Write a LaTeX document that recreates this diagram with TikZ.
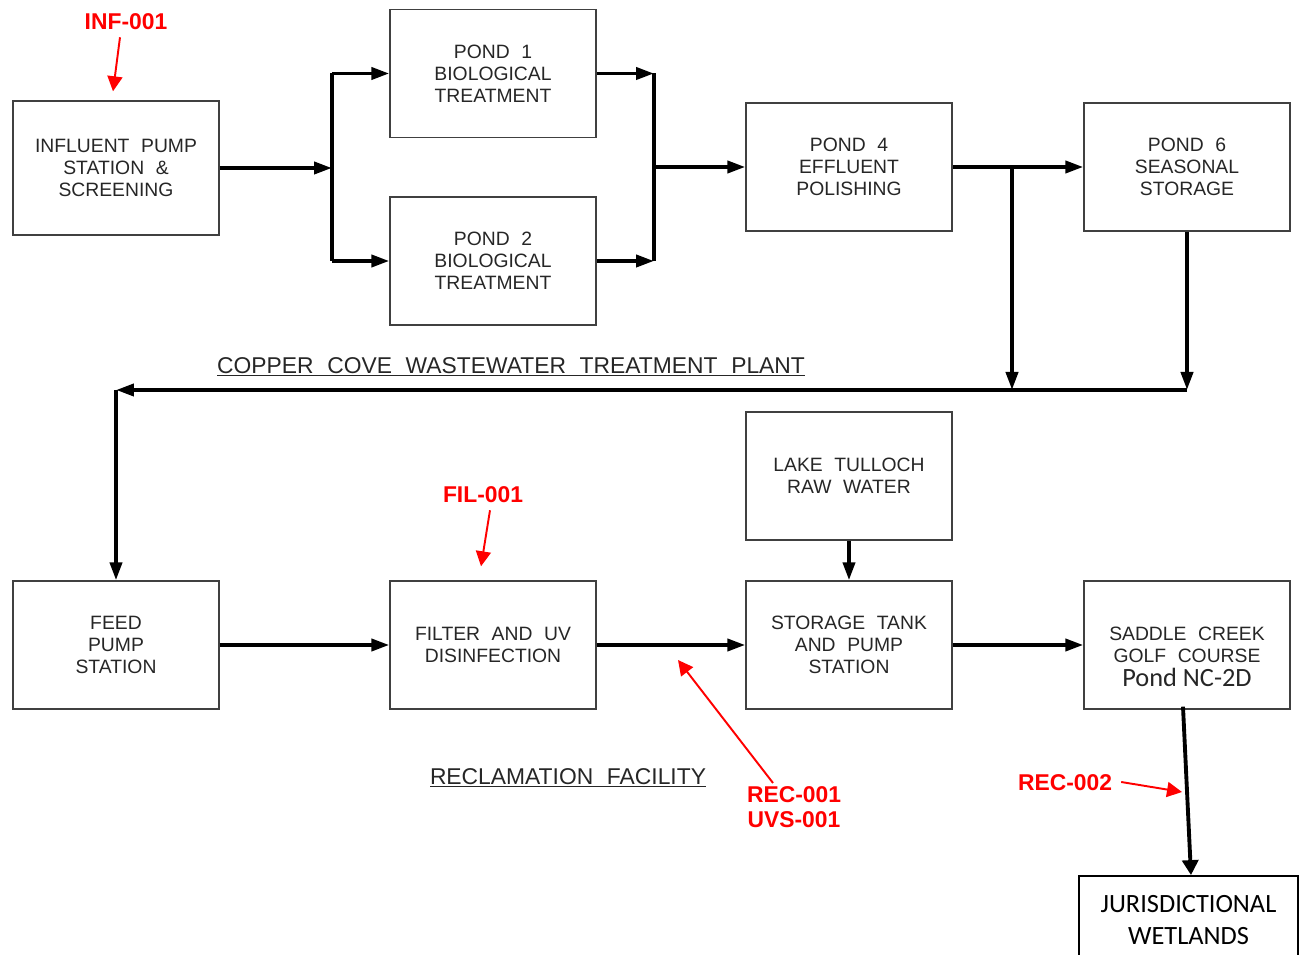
\documentclass[tikz,border=0pt]{standalone}
\usepackage{fontspec}
\setmainfont{Liberation Sans}
\newfontfamily\calibri{Carlito}
\usetikzlibrary{arrows.meta,calc,positioning}
\newcommand{\widegap}{\spaceskip=0.6em\relax}

\begin{document}
\begin{tikzpicture}[x=0.02cm,y=-0.02cm,
  unit/.style={draw=black!75,line width=0.8pt,minimum width=4.12cm,minimum height=2.56cm,inner sep=1pt,align=center,text=black!85,font=\fontsize{11}{12.4}\selectfont\widegap},
  flow/.style={line width=2.2pt,-{Triangle[length=0.36cm,width=0.24cm]}},
  pipe/.style={line width=2.2pt},
  tag/.style={text=red,align=center,font=\bfseries\fontsize{13}{14.5}\selectfont},
  pointer/.style={red,line width=1.1pt,-{Triangle[length=0.3cm,width=0.3cm]}},
  heading/.style={text=black!85,font=\fontsize{13}{15}\selectfont\widegap}]
\useasboundingbox (0,0) rectangle (1299,955);

% treatment plant
\node[unit,minimum height=2.68cm] (inf) at (116,168) {INFLUENT PUMP\\STATION \&\\SCREENING};
\node[unit] (p1) at (493,73.5) {POND 1\\BIOLOGICAL\\TREATMENT};
\node[unit] (p2) at (493,261) {POND 2\\BIOLOGICAL\\TREATMENT};
\node[unit] (p4) at (849,167) {POND 4\\EFFLUENT\\POLISHING};
\node[unit] (p6) at (1187,167) {POND 6\\SEASONAL\\STORAGE};
\node[heading] (wwtp) at (511,367) {\underline{COPPER COVE WASTEWATER TREATMENT PLANT}};

% reclamation facility
\node[unit] (lake) at (849,476) {LAKE TULLOCH\\RAW WATER};
\node[unit] (feed) at (116,645) {FEED\\PUMP\\STATION};
\node[unit] (fil) at (493,645) {FILTER AND UV\\DISINFECTION};
\node[unit] (stor) at (849,645) {STORAGE TANK\\AND PUMP\\STATION};
\node[unit] (golf) at (1187,645) {\strut\\SADDLE CREEK\\GOLF COURSE\\[1pt]{\calibri\spaceskip=0pt\relax\fontsize{15}{17}\selectfont Pond NC-2D}};
\node[heading] (recl) at (568,778) {\underline{RECLAMATION FACILITY}};
\node[draw=black,line width=1pt,minimum width=4.38cm,minimum height=1.76cm,align=center,font=\calibri\fontsize{15}{18.5}\selectfont] (wet) at (1188.5,920) {JURISDICTIONAL\\WETLANDS};

% flow
\coordinate (split) at (332,168);
\coordinate (merge) at (654,167);
\coordinate (tap) at (1012,167);
\coordinate (ret) at (116,390);
\draw[flow] (inf.east) -- (split);
\draw[pipe] (split |- p1.west) -- (split |- p2.west);
\draw[flow] (split |- p1.west) -- (p1.west);
\draw[flow] (split |- p2.west) -- (p2.west);
\draw[flow] (p1.east) -- (p1.east -| merge);
\draw[flow] (p2.east) -- (p2.east -| merge);
\draw[pipe] (p1.east -| merge) -- (p2.east -| merge);
\draw[flow] (merge) -- (p4.west);
\draw[flow] (p4.east) -- (p6.west);
\draw[flow] (tap) -- (tap |- ret);
\draw[flow] (p6.south) -- (p6.south |- ret);
\draw[flow] (p6.south |- ret) -- (ret);
\draw[flow] (ret) -- (feed.north);
\draw[flow] (feed) -- (fil);
\draw[flow] (fil) -- (stor);
\draw[flow] (lake) -- (stor);
\draw[flow] (stor) -- (golf);
\draw[line width=2.2pt,-{Triangle[length=0.3cm,width=0.32cm]}] ($(golf.south)+(-4,-3)$) -- ($(wet.north)+(2.5,0)$);

% sample points
\node[tag] (inftag) at (126,22) {INF-001};
\node[tag] (filtag) at (483,495) {FIL-001};
\node[tag] (rectag) at (794,807) {REC-001\\UVS-001};
\node[tag] (rec2tag) at (1065,783) {REC-002};
\coordinate (recpt) at (678,660);
\coordinate (rec2pt) at (1182,792);
\draw[pointer] ($(inftag.south)+(-6,1)$) -- ($(inf.north)+(-3,-9)$);
\draw[pointer] ($(filtag.south)+(7,1)$) -- ($(fil.north)+(-12,-14)$);
\draw[pointer] ($(rectag.north)+(-21,3)$) -- (recpt);
\draw[pointer] ($(rec2tag.east)+(3,-1)$) -- (rec2pt);
\end{tikzpicture}
\end{document}
